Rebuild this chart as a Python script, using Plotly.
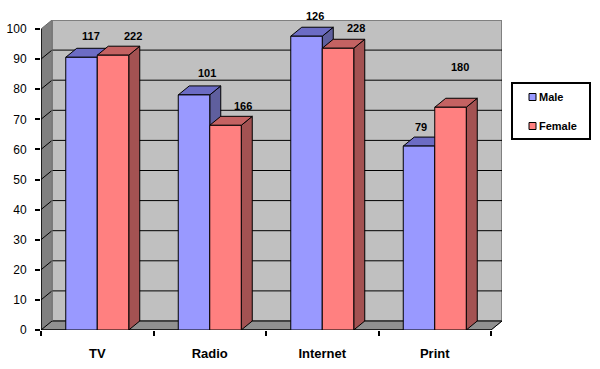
import plotly.graph_objects as go

# ---- data ----
categories = ["TV", "Radio", "Internet", "Print"]
series_names = ["Male", "Female"]
male_values = [90.6, 78.1, 97.6, 61.1]
female_values = [91.3, 68.0, 93.6, 74.0]
male_labels = ["117", "101", "126", "79"]
female_labels = ["222", "166", "228", "180"]
y_ticks = [0, 10, 20, 30, 40, 50, 60, 70, 80, 90, 100]

# label placement (data units)
male_label_x = [-0.056, 0.973, 1.936, 2.875]
male_label_y = [97.6, 85.3, 104.3, 67.3]
female_label_x = [0.318, 1.293, 2.30, 3.224]
female_label_y = [97.6, 74.5, 100.4, 87.3]

# ---- geometry / style ----
W, H = 600, 369
L, R, T, B = 41, 98, 20, 39
DX_PX, DY_PX = 11, 9
plot_w = W - L - R
plot_h = H - T - B
px_per_x = (plot_w - DX_PX) / 4.0
px_per_y = (plot_h - DY_PX) / 100.0
ddx = DX_PX / px_per_x
ddy = DY_PX / px_per_y
x0, x1 = -0.5, 3.5
y_top = 100 + ddy
bar_w = 0.28

male_colors = dict(front="#9999FF", top="#6C6CC4", side="#5F5F9E")
female_colors = dict(front="#FF8080", top="#C46262", side="#A35252")
FONT = "Liberation Sans, Arial"

def px_x(px):
    return (px - L) / plot_w

def px_y(py):
    return (H - B - py) / plot_h

shapes = []

def poly(pts, fill, line="black", lw=1, layer="below"):
    path = "M " + " L ".join(f"{px},{py}" for px, py in pts) + " Z"
    shapes.append(dict(type="path", path=path, xref="x", yref="y",
                       fillcolor=fill, line=dict(color=line, width=lw), layer=layer))

def seg(a, b, color="black", lw=1):
    shapes.append(dict(type="line", xref="x", yref="y", x0=a[0], y0=a[1], x1=b[0], y1=b[1],
                       line=dict(color=color, width=lw), layer="below"))

# walls
poly([(x0 + ddx, ddy), (x1 + ddx, ddy), (x1 + ddx, 100 + ddy), (x0 + ddx, 100 + ddy)], "#C0C0C0", line="#808080", lw=2)
poly([(x0, 0), (x0 + ddx, ddy), (x0 + ddx, 100 + ddy), (x0, 100)], "#808080", line="#6a6a6a", lw=1)
poly([(x0, 0), (x1, 0), (x1 + ddx, ddy), (x0 + ddx, ddy)], "#909090", line="#808080", lw=1)

# gridlines
for v in y_ticks[:-1]:
    seg((x0 + ddx, v + ddy), (x1 + ddx, v + ddy))
    seg((x0, v), (x0 + ddx, v + ddy))
seg((x0 + ddx, ddy), (x0 + ddx, 100 + ddy), "#808080", 1)
seg((x1, 0), (x1 + ddx, ddy), "black", 1)

# 3D faces for bars
for i in range(len(categories)):
    for s, (vals, col) in enumerate([(male_values, male_colors), (female_values, female_colors)]):
        v = vals[i]
        xl = i - bar_w + s * bar_w
        xr = xl + bar_w
        poly([(xr, 0), (xr + ddx, ddy), (xr + ddx, v + ddy), (xr, v)], col["side"])
        poly([(xl, v), (xr, v), (xr + ddx, v + ddy), (xl + ddx, v + ddy)], col["top"])

# axes lines
seg((x0, 0), (x0, 100), "black", 1.5)
seg((x0, 0), (x1, 0), "black", 1.5)

fig = go.Figure()
fig.add_trace(go.Bar(name=series_names[0], x=list(range(len(categories))), y=male_values,
                     marker=dict(color=male_colors["front"], line=dict(color="black", width=1)),
                     showlegend=False))
fig.add_trace(go.Bar(name=series_names[1], x=list(range(len(categories))), y=female_values,
                     marker=dict(color=female_colors["front"], line=dict(color="black", width=1)),
                     showlegend=False))

annotations = []
for lx, ly, t in list(zip(male_label_x, male_label_y, male_labels)) + list(zip(female_label_x, female_label_y, female_labels)):
    annotations.append(dict(x=lx, y=ly / y_top, xref="x", yref="paper", text=t, showarrow=False,
                            xanchor="center", yanchor="middle",
                            font=dict(family=FONT, size=11, color="black", weight="bold")))

# legend (drawn manually to match the boxed Excel legend)
shapes.append(dict(type="rect", xref="paper", yref="paper", x0=px_x(512), x1=px_x(590),
                   y0=px_y(139), y1=px_y(83), fillcolor="white",
                   line=dict(color="black", width=2), layer="above"))
for k, (nm, col) in enumerate(zip(series_names, [male_colors, female_colors])):
    cy = 97 + k * 29
    shapes.append(dict(type="rect", xref="paper", yref="paper", x0=px_x(529), x1=px_x(536),
                       y0=px_y(cy + 3.5), y1=px_y(cy - 3.5), fillcolor=col["front"],
                       line=dict(color="black", width=1), layer="above"))
    annotations.append(dict(x=px_x(537), y=px_y(cy), xref="paper", yref="paper", text=nm,
                            showarrow=False, xanchor="left", yanchor="middle",
                            font=dict(family=FONT, size=11, color="black", weight="bold")))

fig.update_layout(
    template="none",
    width=W, height=H,
    margin=dict(l=L, r=R, t=T, b=B, pad=0, autoexpand=False),
    paper_bgcolor="white", plot_bgcolor="rgba(0,0,0,0)",
    barmode="group", bargap=0.44, bargroupgap=0,
    shapes=shapes, annotations=annotations,
    font=dict(family=FONT, color="black"),
    showlegend=False,
    xaxis=dict(range=[x0, x1 + ddx], tickvals=list(range(len(categories))), ticktext=categories,
               ticks="", showgrid=False, zeroline=False, showline=False, automargin=False,
               tickfont=dict(size=13, weight="bold"), ticklabelstandoff=14,
               minor=dict(tickvals=[-0.5, 0.5, 1.5, 2.5, 3.5], ticks="outside", ticklen=5,
                          tickcolor="black", tickwidth=1.5, showgrid=False)),
    yaxis=dict(range=[0, y_top], tickvals=y_ticks, ticks="outside", ticklen=5,
               tickcolor="black", tickwidth=1.5, showgrid=False, zeroline=False, showline=False,
               automargin=False, tickfont=dict(size=12), ticklabelstandoff=6),
)

fig.write_html("out.html", config={"displayModeBar": False},
               post_script="document.body.style.margin='0';document.body.style.padding='0';")
